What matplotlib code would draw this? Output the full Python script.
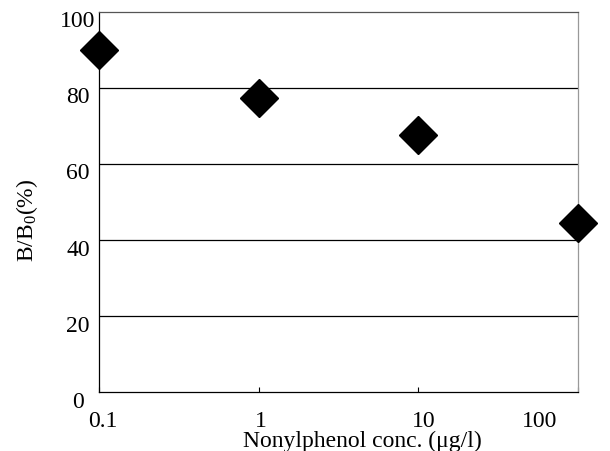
import matplotlib
matplotlib.use("Agg")
import matplotlib.pyplot as plt

# ---- data ----
conc = [0.1, 1, 10, 100]          # Nonylphenol conc. (µg/l)
b_b0 = [90.0, 77.3, 67.5, 44.4]   # B/B0 (%)
xtick_vals = [0.1, 1, 10, 100]
xtick_labels = ["0.1", "1", "10", "100"]
ytick_vals = [0, 20, 40, 60, 80, 100]
ytick_labels = ["0", "20", "40", "60", "80", "100"]
grid_vals = [20, 40, 60, 80]

plt.rcParams['font.family'] = ['Liberation Serif', 'DejaVu Serif']
plt.rcParams['mathtext.fontset'] = 'custom'
plt.rcParams['mathtext.rm'] = 'Liberation Serif'
plt.rcParams['mathtext.it'] = 'Liberation Serif:italic'

fig = plt.figure(figsize=(6.10, 4.52), dpi=100)
ax = fig.add_axes([99/610, 1-393.3/452, (578-99)/610, (393.3-12.7)/452])

ax.set_xscale('log')
ax.set_xlim(0.1, 100)
ax.set_ylim(0, 100)

for g in grid_vals:
    ax.axhline(g, color='black', lw=0.9, zorder=1)

ax.plot(conc, b_b0, linestyle='none', marker='D', markersize=19,
        color='black', markeredgecolor='black', clip_on=False, zorder=5)

ax.set_xticks(xtick_vals)
ax.set_xticks([], minor=True)
ax.set_yticks(ytick_vals)
ax.tick_params(axis='x', which='major', direction='in', length=3.5, width=0.8,
               labelbottom=False)
ax.tick_params(axis='y', which='both', length=0, labelleft=False)

ax.spines['left'].set_color('black')
ax.spines['bottom'].set_color('black')
ax.spines['top'].set_color('#555555')
ax.spines['right'].set_color('#999999')
for s in ax.spines.values():
    s.set_linewidth(0.9)

fs = 17
x_offsets = [4, 2.5, 5.5, -38]
for v, lab, dx in zip(xtick_vals, xtick_labels, x_offsets):
    ax.annotate(lab, xy=(v, 0), xycoords=('data', 'axes fraction'),
                xytext=(dx, -28), textcoords='offset pixels',
                ha='center', va='center', fontsize=fs)
for v, lab in zip(ytick_vals, ytick_labels):
    ax.annotate(lab, xy=(0, v), xycoords=('axes fraction', 'data'),
                xytext=(-21, -9), textcoords='offset pixels',
                ha='center', va='center', fontsize=fs)

fig.text(362.5/610, 1-446.7/452, "Nonylphenol conc. (μg/l)", ha='center',
         va='baseline', fontsize=fs)
fig.text(27.5/610, 1-220/452, r"B/B$_\mathrm{0}$(%)", rotation=90,
         ha='center', va='center', fontsize=fs)

fig.savefig("out.png", dpi=100)
